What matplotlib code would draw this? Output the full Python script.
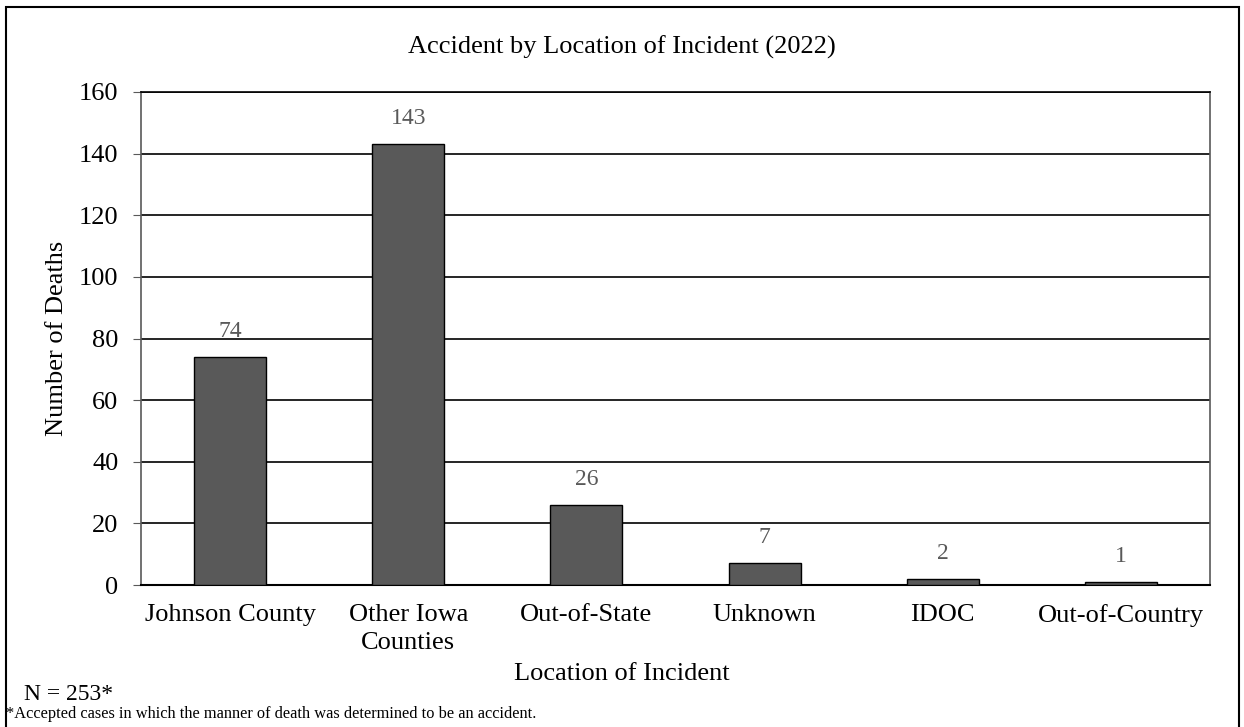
import matplotlib.pyplot as plt
from matplotlib.patches import Rectangle

locations = ["Johnson County", "Other Iowa\nCounties", "Out-of-State", "Unknown", "IDOC", "Out-of-Country"]
deaths = [74, 143, 26, 7, 2, 1]
yticks = [0, 20, 40, 60, 80, 100, 120, 140, 160]

plt.rcParams['font.family'] = ['Liberation Serif', 'DejaVu Serif']

fig = plt.figure(figsize=(12.44, 7.27), dpi=100)
ax = fig.add_axes([141 / 1244, 1 - 585 / 727, 1069 / 1244, 493 / 727])

x = range(len(locations))
ax.bar(x, deaths, width=0.405, color='#595959', edgecolor='black', linewidth=1, zorder=3)
for xi, v in zip(x, deaths):
    ax.annotate(str(v), (xi, v), xytext=(0, 11), textcoords='offset points',
                ha='center', va='bottom', fontsize=17, color='#595959')

ax.set_xlim(-0.5, len(locations) - 0.5)
ax.set_ylim(0, 160)
ax.set_yticks(yticks)
ax.yaxis.grid(True, color='black', linewidth=1.2, zorder=0)
ax.tick_params(axis='y', labelsize=19, length=5.8, color='#595959', pad=10.5)
ax.tick_params(axis='x', labelsize=19, length=0, pad=14)
ax.set_xticks(list(x))
ax.set_xticklabels(locations, linespacing=1.3)
for s in ['left', 'right']:
    ax.spines[s].set_color('#595959')
    ax.spines[s].set_linewidth(1.2)
ax.spines['bottom'].set_linewidth(1.5)
ax.spines['top'].set_linewidth(1.2)

ax.set_ylabel("Number of Deaths", fontsize=19, va='center')
ax.yaxis.set_label_coords(-0.0785, 0.5)
ax.set_xlabel("Location of Incident", fontsize=19, va='center')
ax.xaxis.set_label_coords((622 - 141) / 1069, -(674 - 585) / 493)

fig.text(0.5, 1 - 47 / 727, "Accident by Location of Incident (2022)", ha='center', va='center', fontsize=19)
fig.text(24 / 1244, 1 - 700 / 727, "N = 253*", ha='left', va='baseline', fontsize=17)
fig.text(6 / 1244, 1 - 718 / 727, "*Accepted cases in which the manner of death was determined to be an accident.",
         ha='left', va='baseline', fontsize=11.8)

fig.patches.append(Rectangle((6 / 1244, -0.02), 1233 / 1244, 1 - 7 / 727 + 0.02, transform=fig.transFigure,
                             fill=False, edgecolor='black', linewidth=1.5))

fig.savefig("out.png", dpi=100)
